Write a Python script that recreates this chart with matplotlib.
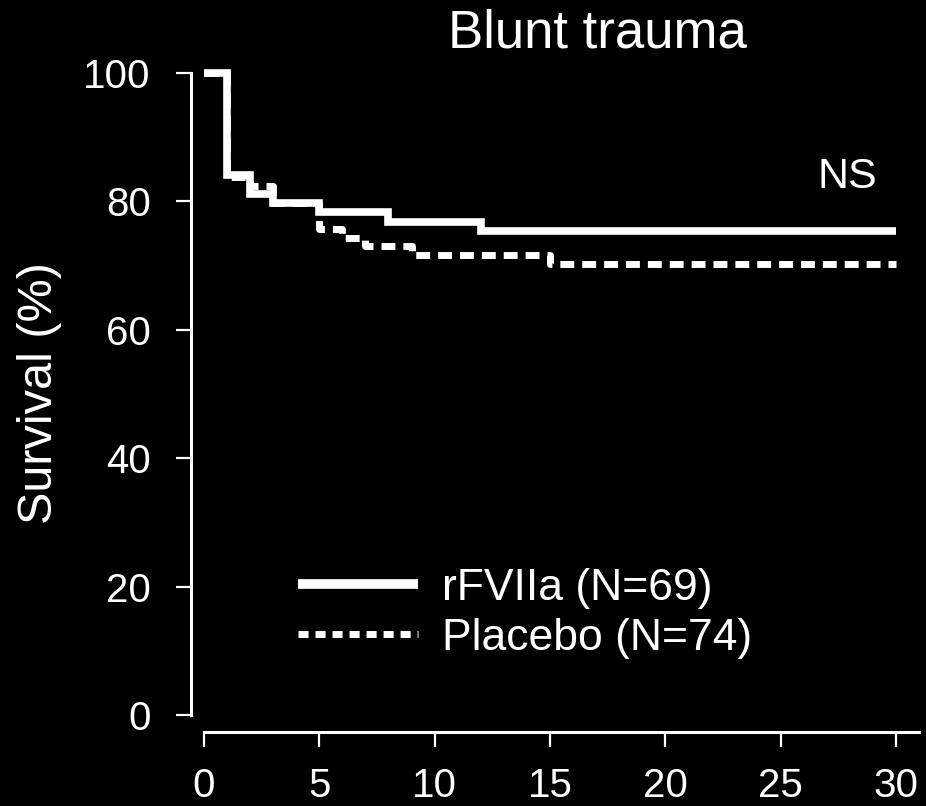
import matplotlib
matplotlib.use("Agg")
import matplotlib.pyplot as plt
from matplotlib.lines import Line2D

plt.rcParams['font.family'] = ['Liberation Sans', 'DejaVu Sans']

# Kaplan-Meier steps (days, survival %)
rfviia_days = [0, 1, 2, 3, 5, 8, 12, 30]
rfviia_surv = [100, 84.1, 81.2, 79.7, 78.3, 76.8, 75.4, 75.4]

placebo_days = [0, 1, 2, 3, 5, 6, 7, 9, 15, 30]
placebo_surv = [100, 83.8, 82.4, 79.7, 75.7, 74.3, 73.0, 71.6, 70.3, 70.3]

labels = ["rFVIIa (N=69)", "Placebo (N=74)"]
x_ticks = [0, 5, 10, 15, 20, 25, 30]
y_ticks = [0, 20, 40, 60, 80, 100]

fig = plt.figure(figsize=(9.26, 8.06), dpi=100, facecolor='black')
ax = fig.add_axes([0.2063, 0.0918, 0.7862, 0.8335], facecolor='black')

# placebo below, rFVIIa on top
ax.step(placebo_days, placebo_surv, where='post', color='white', lw=5,
        linestyle=(0, (2.0, 1.15)), dash_capstyle='butt', solid_capstyle='butt')
ax.step(rfviia_days, rfviia_surv, where='post', color='white', lw=5.5,
        solid_capstyle='butt', solid_joinstyle='miter')

ax.set_xlim(-0.56, 31)
ax.set_ylim(-2.65, 102)

for s in ['top', 'right']:
    ax.spines[s].set_visible(False)
for s in ['left', 'bottom']:
    ax.spines[s].set_color('white')
    ax.spines[s].set_linewidth(2.2)
ax.spines['left'].set_bounds(0, 100)
ax.spines['bottom'].set_bounds(0, 31)

ax.set_xticks(x_ticks)
ax.set_yticks(y_ticks)
ax.tick_params(colors='white', length=11, width=1.6, labelsize=29)
ax.tick_params(axis='y', pad=18)
ax.tick_params(axis='x', pad=14)

fig.text(597 / 926, 1 - 48 / 806, "Blunt trauma", color='white', fontsize=38,
         ha='center', va='baseline')
fig.text(40 / 926, 1 - 393 / 806, "Survival (%)", color='white', fontsize=35,
         rotation=90, ha='center', va='center')
ax.text(27.9, 83.8, "NS", color='white', fontsize=31, ha='center', va='center')

handles = [
    Line2D([], [], color='white', lw=7, solid_capstyle='butt'),
    Line2D([], [], color='white', lw=5, linestyle=(0, (1.45, 1.0)),
           dash_capstyle='butt'),
]
leg = ax.legend(handles, labels, loc='center left', bbox_to_anchor=(0.147, 0.177),
                frameon=False, fontsize=32, labelcolor='white', handlelength=2.7,
                handletextpad=0.55, labelspacing=0.2, borderpad=0, borderaxespad=0)

fig.savefig("out.png", dpi=100, facecolor='black')
